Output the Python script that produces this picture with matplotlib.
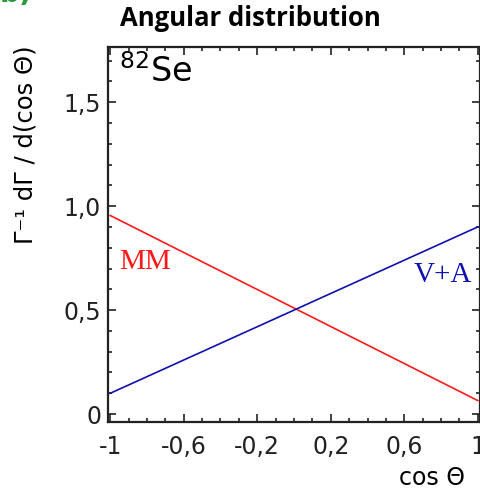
import numpy as np
import matplotlib
matplotlib.use('Agg')
import matplotlib.pyplot as plt
from matplotlib.ticker import MultipleLocator, FuncFormatter

# line end points
cos_theta = [-1.0, 1.0]
mm_values = [0.955, 0.065]
va_values = [0.10, 0.90]

xticks = [-1, -0.6, -0.2, 0.2, 0.6, 1]
yticks = [0, 0.5, 1.0, 1.5]

fig = plt.figure(figsize=(4.81, 4.90), dpi=100)
ax = fig.add_axes([108/481, 68/490, 372/481, 375/490])

ax.plot(cos_theta, mm_values, color='#ff1a1a', linewidth=1.2)
ax.plot(cos_theta, va_values, color='#1010b0', linewidth=1.2)

ax.set_xlim(-1.012, 1.012)
ax.set_ylim(-0.038, 1.765)

def xfmt(v, pos):
    if abs(v - round(v)) < 1e-9:
        return '%d' % round(v)
    return ('%.1f' % v).replace('.', ',')

def yfmt(v, pos):
    if abs(v) < 1e-9:
        return '0'
    return ('%.1f' % v).replace('.', ',')

ax.set_xticks(xticks)
ax.set_yticks(yticks)
ax.xaxis.set_major_formatter(FuncFormatter(xfmt))
ax.yaxis.set_major_formatter(FuncFormatter(yfmt))
ax.xaxis.set_minor_locator(MultipleLocator(0.1))
ax.yaxis.set_minor_locator(MultipleLocator(0.1))
ax.tick_params(which='both', direction='in', top=True, right=True,
               colors='#222222', labelsize=17, width=1.2)
ax.tick_params(which='major', length=6, pad=5)
ax.tick_params(axis='x', which='major', pad=9)
ax.tick_params(which='minor', length=3)
for s in ax.spines.values():
    s.set_linewidth(1.6)
    s.set_color('#222222')

ax.text(0.03, 0.98, r'$^{82}$Se', transform=ax.transAxes, fontsize=24,
        va='top', ha='left')
ax.text(-0.95, 0.73, 'MM', color='#ff1a1a', fontsize=21,
        family='Liberation Serif', va='center')
ax.text(0.97, 0.67, 'V+A', color='#1010b0', fontsize=21,
        family='Liberation Serif', va='center', ha='right')

ax.set_ylabel('Γ⁻¹ dΓ / d(cos Θ)', fontsize=17.5)
ax.yaxis.set_label_coords(-0.19, 0.74)
fig.text(432/481, 1 - 478/490, 'cos Θ', fontsize=17, ha='center', va='center')
fig.text(250/481, 1 - 18/490, 'Angular distribution', fontsize=18.5,
         fontweight='bold', ha='center', va='center', family='Open Sans')
fig.text(0.0, 1.0 + 6/490, 'b)', color='#2a9a3a', fontsize=20, fontweight='bold',
         ha='left', va='center')

fig.savefig('out.png', dpi=100)
